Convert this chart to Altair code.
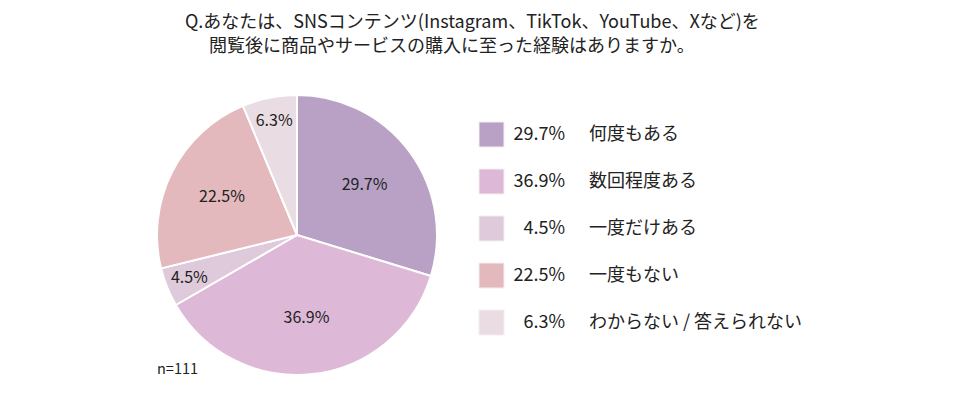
import altair as alt
import pandas as pd
import math

categories = ["何度もある", "数回程度ある", "一度だけある", "一度もない", "わからない / 答えられない"]
values = [29.7, 36.9, 4.5, 22.5, 6.3]
colors = ["#b9a1c6", "#deb9d7", "#dfcadc", "#e3b9bd", "#e9dce3"]
title_lines = ["Q.あなたは、SNSコンテンツ(Instagram、TikTok、YouTube、Xなど)を",
               "閲覧後に商品やサービスの購入に至った経験はありますか。"]
note = "n=111"

FONT = "Noto Sans CJK JP"
TXT = "#222222"

df = pd.DataFrame({"cat": categories, "value": values, "idx": list(range(len(categories)))})

base = alt.Chart(df).transform_calculate(
    label="format(datum.value, '.1f') + '%'"
)

color = alt.Color("cat:N", scale=alt.Scale(domain=categories, range=colors), legend=None)

pie = base.mark_arc(outerRadius=140, stroke="white", strokeWidth=2).encode(
    theta=alt.Theta("value:Q", stack=True),
    color=color,
    order=alt.Order("idx:Q"),
    x=alt.value(289), y=alt.value(227),
)

pie_labels = base.transform_window(
    cum="sum(value)", sort=[alt.SortField("idx", order="ascending")],
    frame=[None, 0]
).transform_joinaggregate(
    total="sum(value)"
).transform_calculate(
    mid="(datum.cum - datum.value / 2) / datum.total",
    lr="datum.value < 10 ? 116 : 84",
).mark_text(font=FONT, fontSize=16, color=TXT, align="center", baseline="middle").encode(
    theta=alt.Theta("mid:Q", stack=None, scale=alt.Scale(domain=[0, 1], range=[0, 2 * math.pi])),
    radius=alt.Radius("lr:Q", scale=None),
    text="label:N",
    x=alt.value(289), y=alt.value(227),
)

yenc = alt.Y("cat:N", sort=categories, axis=None,
             scale=alt.Scale(type="point", domain=categories, range=[126.5, 314.5], padding=0))

leg_sq = base.mark_square(size=625, opacity=1, stroke="#f4eef3", strokeWidth=1).encode(
    y=yenc, x=alt.value(483.5), color=color,
)
leg_pct = base.mark_text(font=FONT, fontSize=18, color=TXT, align="right", baseline="middle").encode(
    y=yenc, x=alt.value(557), text="label:N",
)
leg_lab = base.mark_text(font=FONT, fontSize=18, color=TXT, align="left", baseline="middle").encode(
    y=yenc, x=alt.value(581), text="cat:N",
)

tdf = pd.DataFrame({"t": title_lines, "i": [0, 1]})
title1 = alt.Chart(tdf).transform_filter("datum.i == 0").mark_text(
    font=FONT, fontSize=18, color=TXT, align="left", baseline="middle"
).encode(text="t:N", x=alt.value(177), y=alt.value(15))
title2 = alt.Chart(tdf).transform_filter("datum.i == 1").mark_text(
    font=FONT, fontSize=18, color=TXT, align="left", baseline="middle"
).encode(text="t:N", x=alt.value(201), y=alt.value(39))

ndf = pd.DataFrame({"t": [note]})
ntext = alt.Chart(ndf).mark_text(font=FONT, fontSize=14.5, color=TXT, align="left", baseline="middle").encode(
    text="t:N", x=alt.value(149), y=alt.value(362)
)

chart = alt.layer(pie, pie_labels, leg_sq, leg_pct, leg_lab, title1, title2, ntext).resolve_scale(
    theta="independent"
).properties(
    width=944, height=378, autosize=alt.AutoSizeParams(type="none"), padding=0
).configure(background="white").configure_view(stroke=None)

chart.save("out.html", embed_options={"renderer": "svg", "actions": False})
